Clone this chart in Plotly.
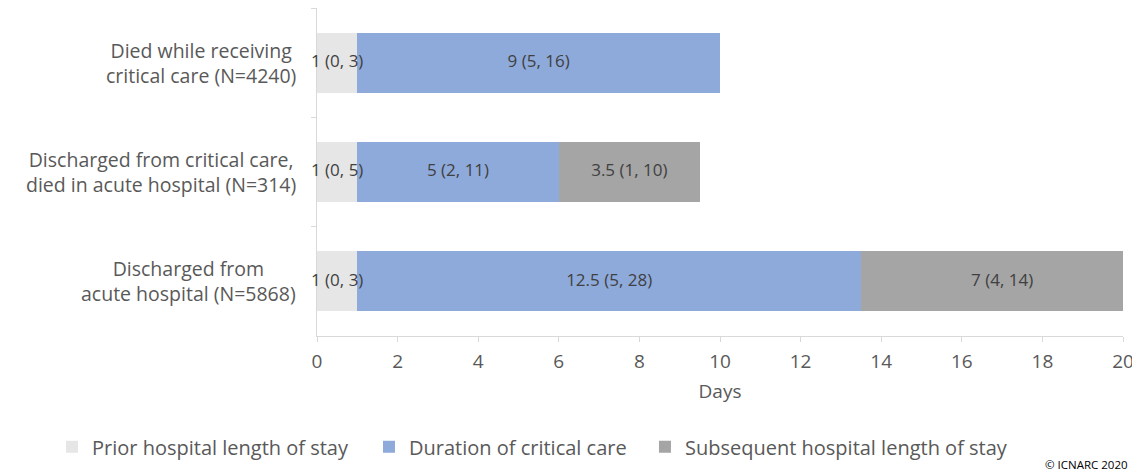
import plotly.graph_objects as go

categories = [
    "Died while receiving<br>critical care (N=4240)",
    "Discharged from critical care,<br>died in acute hospital (N=314)",
    "Discharged from<br>acute hospital (N=5868)",
]
series_names = ["Prior hospital length of stay", "Duration of critical care", "Subsequent hospital length of stay"]
prior_vals = [1, 1, 1]
critical_vals = [9, 5, 12.5]
subsequent_vals = [0, 3.5, 7]
prior_labels = ["1 (0, 3)", "1 (0, 5)", "1 (0, 3)"]
critical_labels = ["9 (5, 16)", "5 (2, 11)", "12.5 (5, 28)"]
subsequent_labels = ["", "3.5 (1, 10)", "7 (4, 14)"]
x_ticks = [0, 2, 4, 6, 8, 10, 12, 14, 16, 18, 20]

colors = ["#e6e6e6", "#8eaadb", "#a5a5a5"]
legend_ids = ["legend", "legend2", "legend3"]
legend_x = [-0.3288, 0.0645, 0.4069]
FONT = "Open Sans"
TXT = "#595959"
DTXT = "#404040"

all_vals = [prior_vals, critical_vals, subsequent_vals]
all_labels = [prior_labels, critical_labels, subsequent_labels]

fig = go.Figure()
for name, vals, col, lid in zip(series_names, all_vals, colors, legend_ids):
    fig.add_trace(go.Bar(
        y=categories, x=vals, name=name, orientation="h",
        marker=dict(color=col, line=dict(width=0)),
        hoverinfo="skip", legend=lid,
    ))

# data labels at segment midpoints, drawn on top of all bars
lab_x, lab_y, lab_t = [], [], []
for i, cat in enumerate(categories):
    start = 0
    for vals, labels in zip(all_vals, all_labels):
        v = vals[i]
        if v > 0 and labels[i]:
            lab_x.append(start + v / 2)
            lab_y.append(cat)
            lab_t.append(labels[i])
        start += v
fig.add_trace(go.Scatter(
    x=lab_x, y=lab_y, text=lab_t, mode="text", textposition="middle center",
    textfont=dict(family=FONT, size=17, color=DTXT), cliponaxis=False,
    showlegend=False, hoverinfo="skip",
))

for c in categories:
    fig.add_annotation(x=0, xref="paper", y=c, yref="y", text=c, showarrow=False,
                       xanchor="right", yanchor="middle", align="center", xshift=-19,
                       font=dict(family=FONT, size=19.5, color=TXT))

fig.add_annotation(x=1.0087, xref="paper", y=-0.393, yref="paper", text="© ICNARC 2020",
                   showarrow=False, xanchor="right", yanchor="middle",
                   font=dict(family=FONT, size=11.5, color="#000000"))

legend_common = dict(orientation="h", xref="paper", yref="paper", y=-0.338,
                     xanchor="left", yanchor="middle", bgcolor="rgba(0,0,0,0)",
                     font=dict(family=FONT, size=20, color=TXT), itemwidth=30)

fig.update_layout(
    barmode="stack", bargap=0.45,
    width=1132, height=467,
    margin=dict(l=309, r=17, t=0, b=139, pad=0),
    plot_bgcolor="white", paper_bgcolor="white",
    font=dict(family=FONT, color=TXT),
    showlegend=True,
    legend=dict(x=legend_x[0], **legend_common),
    legend2=dict(x=legend_x[1], **legend_common),
    legend3=dict(x=legend_x[2], **legend_common),
    xaxis=dict(range=[0, 20], tickvals=x_ticks, showgrid=False, zeroline=False,
               showline=True, linecolor="#d9d9d9", linewidth=1, layer="below traces",
               ticks="outside", ticklen=5, tickcolor="#d9d9d9",
               tickfont=dict(family=FONT, size=19, color=TXT), ticklabelstandoff=3,
               title=dict(text="Days", font=dict(family=FONT, size=19, color=TXT), standoff=11)),
    yaxis=dict(autorange="reversed", showticklabels=False, showgrid=False, zeroline=False,
               showline=True, linecolor="#d9d9d9", linewidth=1, layer="below traces",
               ticks="outside", ticklen=5, tickcolor="#d9d9d9", tickson="boundaries"),
)

fig.write_html("out.html")
